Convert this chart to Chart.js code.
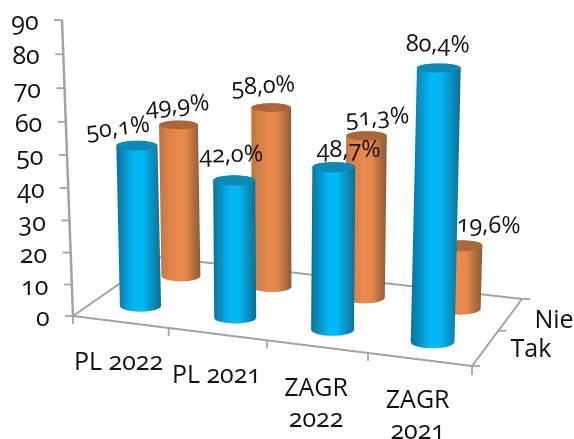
<!DOCTYPE html>
<html><head><meta charset="utf-8">
<style>
html,body{margin:0;padding:0;background:#fff;overflow:hidden}
canvas{display:block;font-feature-settings:"onum" 1;filter:blur(0.35px)}
</style>
<script src="https://cdn.jsdelivr.net/npm/chart.js@4/dist/chart.umd.js"></script>
</head><body>
<canvas id="c" width="574" height="439"></canvas>
<script>
const categories = [["PL 2022"], ["PL 2021"], ["ZAGR", "2022"], ["ZAGR", "2021"]];
const seriesNames = ["Tak", "Nie"];
const takValues = [50.1, 42.0, 48.7, 80.4];
const nieValues = [49.9, 58.0, 51.3, 19.6];
const yTicks = [0, 10, 20, 30, 40, 50, 60, 70, 80, 90];

const FAMILY = '"Open Sans", "Noto Sans", sans-serif';
const FONT = '25px ' + FAMILY;
const DATA_FONT = '23.5px ' + FAMILY;
const AXIS = '#a3a3a3';
const floorQuad = [[73,316],[472,366],[522,299],[158,257]];
const depthPos = [0.25, 0.75];

const H = (() => {
  const [[x0,y0],[x1,y1],[x2,y2],[x3,y3]] = floorQuad;
  const sx=x0-x1+x2-x3, sy=y0-y1+y2-y3, dx1=x1-x2, dx2=x3-x2, dy1=y1-y2, dy2=y3-y2;
  const den=dx1*dy2-dx2*dy1, g=(sx*dy2-dx2*sy)/den, h=(dx1*sy-sx*dy1)/den;
  const a=x1-x0+g*x1, b=x3-x0+h*x3, d=y1-y0+g*y1, e=y3-y0+h*y3;
  return (s,t)=>{const w=g*s+h*t+1;return [(a*s+b*t+x0)/w,(d*s+e*t+y0)/w];};
})();

const SKINS = [
  {stops:[[0,'#0a6f9a'],[.12,'#0a86b6'],[.38,'#02b6f2'],[.58,'#00baf7'],[.82,'#0a8dbd'],[1,'#0a6f97']], top:'#0a8ab6'},
  {stops:[[0,'#b9743f'],[.15,'#d37f47'],[.45,'#ea894e'],[.65,'#e5864c'],[.88,'#a9683a'],[1,'#8d5a36']], top:'#a9673a'}
];

function geom(chart, el, dsIndex) {
  const xs = chart.scales.x, ys = chart.scales.y;
  const s = (el.x - xs.left) / xs.width;
  const [px, by] = H(s, depthPos[dsIndex]);
  const bx = px - 1.8;
  const k = 1 + (by - ys.bottom) * 0.00176;
  const h = (el.base - el.y) * k * 0.99;
  const tx = bx + (bx - 285) * 0.000154 * h;
  const ty = by - h;
  const r = el.width / 2 * k;
  const ryOf = y => r * (0.18 + y * 0.00037);
  return {bx, by, tx, ty, r, ryTop: ryOf(ty), ryBot: ryOf(by)};
}

class CylinderController extends Chart.BarController {
  draw() {
    const ctx = this.chart.ctx, meta = this.getMeta(), idx = this.index, skin = SKINS[idx];
    ctx.save();
    meta.data.forEach(el => {
      const g = geom(this.chart, el, idx);
      const left = Math.min(g.bx, g.tx) - g.r, right = Math.max(g.bx, g.tx) + g.r;
      const gr = ctx.createLinearGradient(left, 0, right, 0);
      skin.stops.forEach(([p, c]) => gr.addColorStop(p, c));
      ctx.beginPath();
      ctx.moveTo(g.tx - g.r, g.ty);
      ctx.lineTo(g.bx - g.r, g.by);
      ctx.ellipse(g.bx, g.by, g.r, g.ryBot, 0, Math.PI, 0, true);
      ctx.lineTo(g.tx + g.r, g.ty);
      ctx.ellipse(g.tx, g.ty, g.r, g.ryTop, 0, 0, Math.PI, true);
      ctx.closePath();
      ctx.fillStyle = gr;
      ctx.fill();
      ctx.beginPath();
      ctx.ellipse(g.tx, g.ty, g.r, g.ryTop, 0, 0, Math.PI * 2);
      ctx.fillStyle = skin.top;
      ctx.fill();
    });
    ctx.restore();
  }
}
CylinderController.id = 'cylinder';
CylinderController.defaults = Chart.BarController.defaults;
Chart.register(CylinderController);

function line(ctx, a, b, c) {
  ctx.beginPath(); ctx.moveTo(a, b); ctx.lineTo(c[0], c[1]); ctx.stroke();
}

const frame = {
  id: 'frame',
  beforeDatasetsDraw(chart) {
    const ctx = chart.ctx, ys = chart.scales.y;
    const [p0, p1, p2, p3] = floorQuad;
    ctx.save();
    ctx.strokeStyle = AXIS; ctx.lineWidth = 2; ctx.lineCap = 'butt';
    line(ctx, p0[0], p0[1], p1);
    line(ctx, p1[0], p1[1], p2);
    line(ctx, p2[0], p2[1], p3);
    line(ctx, p3[0], p3[1], p0);
    const axisX = v => p0[0] - 11 * (ys.bottom - ys.getPixelForValue(v)) / (ys.bottom - ys.top);
    ctx.lineWidth = 2.5;
    line(ctx, p0[0], ys.bottom, [axisX(ys.max), ys.top]);
    ctx.fillStyle = '#111'; ctx.font = FONT; ctx.textAlign = 'right'; ctx.textBaseline = 'middle';
    ctx.lineWidth = 1.8;
    yTicks.forEach(v => {
      const t = v / ys.max;
      const y = ys.getPixelForValue(v) + 14 * t * (1 - t), x = axisX(v);
      line(ctx, x, y, [x - 8, y]);
      ctx.fillText(String(v), x - 23.5, y + 3);
    });
    categories.forEach((_, i) => {
      const [x, y] = H(i / categories.length, 0);
      line(ctx, x, y, [x, y + 8]);
    });
    const [ex, ey] = H(1, 0);
    line(ctx, ex, ey, [ex, ey + 9]);
    line(ctx, ex, ey, [ex + 8, ey]);
    const [mx, my] = H(1, 0.5);
    line(ctx, mx, my, [mx + 8, my]);
    line(ctx, p2[0], p2[1], [p2[0] + 8, p2[1]]);
    ctx.restore();
  },
  afterDatasetsDraw(chart) {
    const ctx = chart.ctx;
    ctx.save();
    ctx.fillStyle = '#111'; ctx.textAlign = 'center'; ctx.textBaseline = 'middle';
    ctx.font = DATA_FONT;
    const nudge = [[[-19,-17,-.12],[-3,-25,-.03],[15,-17,0],[-1,-23,.02]],
                   [[-1,-19,-.08],[-8,-21,-.06],[11,-18,-.05],[27,-20,.03]]];
    chart.data.datasets.forEach((ds, d) => {
      chart.getDatasetMeta(d).data.forEach((el, i) => {
        const g = geom(chart, el, d), n = nudge[d][i];
        ctx.save();
        ctx.translate(g.tx + n[0], g.ty + n[1]);
        ctx.rotate(n[2]);
        ctx.fillText(ds.data[i].toFixed(1).replace('.', ',') + '%', 0, 0);
        ctx.restore();
      });
    });
    ctx.font = FONT;
    const catNudge = [[-2,41],[-1,42],[-1,42],[-2,41]];
    categories.forEach((lines, i) => {
      const [x, y] = H((i + .5) / categories.length, 0);
      lines.forEach((t, j) => ctx.fillText(t, x + catNudge[i][0], y + catNudge[i][1] + j * 31));
    });
    seriesNames.forEach((n, d) => {
      const [x, y] = H(1, depthPos[d]);
      ctx.textAlign = 'left';
      ctx.fillText(n, x + (d ? 24 : 25), y + (d ? 6 : 2));
    });
    ctx.restore();
  }
};

new Chart(document.getElementById('c'), {
  type: 'cylinder',
  data: {
    labels: categories,
    datasets: [
      {label: seriesNames[0], data: takValues, grouped: false, barPercentage: .42, categoryPercentage: 1, clip: false},
      {label: seriesNames[1], data: nieValues, grouped: false, barPercentage: .42, categoryPercentage: 1, clip: false}
    ]
  },
  options: {
    responsive: false, animation: false,
    layout: {padding: {left: 73, right: 102, top: 20, bottom: 123}},
    plugins: {legend: {display: false}, tooltip: {enabled: false}},
    scales: {
      x: {type: 'category', display: false, offset: true, grid: {display: false}},
      y: {type: 'linear', display: false, min: 0, max: 90, beginAtZero: true}
    }
  },
  plugins: [frame]
});
</script>
</body></html>
